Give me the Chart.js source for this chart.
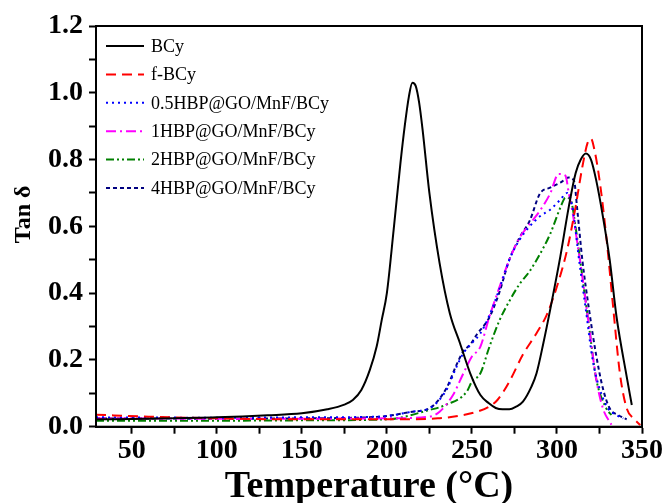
<!DOCTYPE html>
<html>
<head>
<meta charset="utf-8">
<script src="https://cdn.jsdelivr.net/npm/chart.js@4.4.1/dist/chart.umd.min.js"></script>
<style>
  html, body { margin: 0; padding: 0; background: #fff; }
  #wrap { width: 667px; height: 503px; }
</style>
</head>
<body>
<div id="wrap"><canvas id="tanChart"></canvas></div>
<script>
// tick values
var xTickVals = [50, 75, 100, 125, 150, 175, 200, 225, 250, 275, 300, 325, 350];

// BCy
var tempBCy = [29, 60, 100, 130, 150, 165, 175, 180, 185, 190, 194, 197, 200, 204, 208, 210.5, 213, 215, 217, 219, 221, 225, 231, 237, 243, 249, 255, 260, 264, 268, 272, 276, 280, 285, 288, 292, 296, 302, 307, 311, 314, 317, 320, 323, 327, 331, 335, 341, 344];
var tanBCy = [0.022, 0.024, 0.028, 0.034, 0.040, 0.052, 0.066, 0.08, 0.11, 0.17, 0.24, 0.32, 0.40, 0.59, 0.79, 0.90, 0.99, 1.03, 1.02, 0.97, 0.89, 0.70, 0.49, 0.34, 0.25, 0.16, 0.095, 0.07, 0.056, 0.052, 0.052, 0.06, 0.075, 0.12, 0.16, 0.25, 0.35, 0.51, 0.66, 0.76, 0.80, 0.818, 0.80, 0.74, 0.63, 0.50, 0.33, 0.15, 0.065];

// f-BCy
var tempF = [29, 60, 100, 150, 200, 230, 245, 253, 260, 265, 272, 280, 288, 294, 300, 306, 311, 315, 318, 320, 322, 325, 329, 333, 337, 341, 345, 349];
var tanF = [0.036, 0.030, 0.025, 0.022, 0.022, 0.025, 0.035, 0.045, 0.06, 0.08, 0.135, 0.216, 0.28, 0.335, 0.42, 0.53, 0.66, 0.78, 0.85, 0.863, 0.83, 0.74, 0.57, 0.36, 0.16, 0.055, 0.025, 0.005];

// 0.5HBP@GO/MnF/BCy
var temp05 = [29, 100, 150, 196, 215, 225, 235, 241, 245, 250, 255, 260, 266, 272, 278, 284, 290, 296, 302, 306, 309, 313, 317, 321, 325, 330, 335, 339];
var tan05 = [0.028, 0.027, 0.028, 0.03, 0.045, 0.055, 0.11, 0.18, 0.22, 0.25, 0.28, 0.33, 0.41, 0.50, 0.56, 0.60, 0.63, 0.65, 0.68, 0.70, 0.66, 0.50, 0.35, 0.20, 0.115, 0.055, 0.035, 0.025];

// 1HBP@GO/MnF/BCy
var temp1 = [29, 100, 150, 200, 225, 231, 239, 245, 250, 255, 260, 266, 272, 278, 284, 290, 296, 301, 305, 307, 309, 312, 315, 319, 323, 327, 332];
var tan1 = [0.025, 0.024, 0.024, 0.025, 0.03, 0.045, 0.096, 0.16, 0.21, 0.24, 0.325, 0.415, 0.50, 0.566, 0.607, 0.647, 0.698, 0.757, 0.752, 0.698, 0.647, 0.55, 0.446, 0.295, 0.145, 0.055, 0.006];

// 2HBP@GO/MnF/BCy
var temp2 = [29, 100, 150, 200, 225, 235, 247, 250, 255, 260, 266, 272, 278, 284, 290, 296, 302, 305, 308, 311, 315, 319, 323, 329, 332];
var tan2 = [0.018, 0.018, 0.019, 0.022, 0.05, 0.066, 0.105, 0.135, 0.16, 0.235, 0.316, 0.376, 0.427, 0.466, 0.517, 0.577, 0.656, 0.686, 0.68, 0.596, 0.446, 0.295, 0.145, 0.055, 0.035];

// 4HBP@GO/MnF/BCy
var temp4 = [29, 100, 150, 196, 215, 225, 235, 241, 245, 249, 253, 260, 266, 272, 278, 284, 290, 296, 302, 307, 310, 312, 315, 319, 323, 327, 331, 336, 341];
var tan4 = [0.025, 0.024, 0.025, 0.03, 0.045, 0.055, 0.115, 0.186, 0.226, 0.246, 0.277, 0.325, 0.40, 0.50, 0.566, 0.617, 0.698, 0.716, 0.731, 0.746, 0.737, 0.647, 0.496, 0.346, 0.216, 0.115, 0.055, 0.035, 0.022];

function pts(xs, ys) {
  return xs.map(function (x, i) { return { x: x, y: ys[i] }; });
}

function line(label, xs, ys, color, dash) {
  return {
    label: label,
    data: pts(xs, ys),
    borderColor: color,
    backgroundColor: color,
    borderWidth: 2,
    borderDash: dash,
    pointRadius: 0,
    fill: false,
    cubicInterpolationMode: 'monotone'
  };
}

var FONT = '"Liberation Serif", "Times New Roman", serif';

// top and right sides of the frame
var framePlugin = {
  id: 'frame',
  afterDraw: function (chart) {
    var a = chart.chartArea, ctx = chart.ctx;
    ctx.save();
    ctx.strokeStyle = '#000';
    ctx.lineWidth = 2;
    ctx.setLineDash([]);
    ctx.strokeRect(a.left, a.top, a.right - a.left, a.bottom - a.top);
    ctx.restore();
  }
};

// legend inside the plot, top left, with the dash pattern of each line
var insideLegend = {
  id: 'insideLegend',
  afterDraw: function (chart) {
    var a = chart.chartArea, ctx = chart.ctx;
    ctx.save();
    ctx.font = '18px ' + FONT;
    ctx.textBaseline = 'middle';
    ctx.textAlign = 'left';
    chart.data.datasets.forEach(function (ds, i) {
      var y = a.top + 20 + i * 28.4;
      ctx.beginPath();
      ctx.strokeStyle = ds.borderColor;
      ctx.lineWidth = 2;
      ctx.setLineDash(ds.borderDash || []);
      ctx.moveTo(a.left + 10, y);
      ctx.lineTo(a.left + 48, y);
      ctx.stroke();
      ctx.setLineDash([]);
      ctx.fillStyle = '#000';
      ctx.fillText(ds.label, a.left + 55, y + 1);
    });
    ctx.restore();
  }
};

new Chart(document.getElementById('tanChart'), {
  type: 'line',
  data: {
    datasets: [
      line('BCy', tempBCy, tanBCy, '#000000', []),
      line('f-BCy', tempF, tanF, '#ff0000', [10, 6]),
      line('0.5HBP@GO/MnF/BCy', temp05, tan05, '#0000ff', [2, 4]),
      line('1HBP@GO/MnF/BCy', temp1, tan1, '#ff00ff', [10, 4, 2, 4]),
      line('2HBP@GO/MnF/BCy', temp2, tan2, '#008000', [8, 3, 2, 3, 2, 3]),
      line('4HBP@GO/MnF/BCy', temp4, tan4, '#000080', [4, 3])
    ]
  },
  options: {
    responsive: true,
    maintainAspectRatio: false,
    animation: false,
    layout: { padding: { top: 26, right: 25, left: 12, bottom: 0 } },
    plugins: {
      tooltip: { enabled: false },
      legend: { display: false }
    },
    scales: {
      x: {
        type: 'linear',
        min: 29,
        max: 350,
        afterBuildTicks: function (scale) {
          scale.ticks = xTickVals.map(function (v) { return { value: v }; });
        },
        ticks: {
          autoSkip: false,
          maxRotation: 0,
          padding: 3,
          color: '#000',
          font: { family: FONT, size: 28, weight: 'bold', lineHeight: 1 },
          callback: function (v) { return v % 50 === 0 ? String(v) : ''; }
        },
        grid: {
          drawOnChartArea: false,
          drawTicks: true,
          tickLength: 7,
          tickWidth: 2,
          tickColor: '#000'
        },
        border: { display: true, color: '#000', width: 2 },
        title: {
          display: true,
          text: 'Temperature (°C)',
          color: '#000',
          padding: { top: 3, bottom: 0 },
          font: { family: FONT, size: 38, weight: 'bold', lineHeight: 0.85 }
        }
      },
      y: {
        min: 0,
        max: 1.2,
        ticks: {
          stepSize: 0.1,
          autoSkip: false,
          padding: 6,
          color: '#000',
          font: { family: FONT, size: 28, weight: 'bold' },
          callback: function (v) {
            var k = Math.round(v * 10);
            return k % 2 === 0 ? (k / 10).toFixed(1) : '';
          }
        },
        grid: {
          drawOnChartArea: false,
          drawTicks: true,
          tickLength: 7,
          tickWidth: 2,
          tickColor: '#000'
        },
        border: { display: true, color: '#000', width: 2 },
        title: {
          display: true,
          text: '    Tan δ',
          color: '#000',
          padding: { top: 0, bottom: 6 },
          font: { family: FONT, size: 24, weight: 'bold', lineHeight: 1 }
        }
      }
    }
  },
  plugins: [framePlugin, insideLegend]
});
</script>
</body>
</html>
